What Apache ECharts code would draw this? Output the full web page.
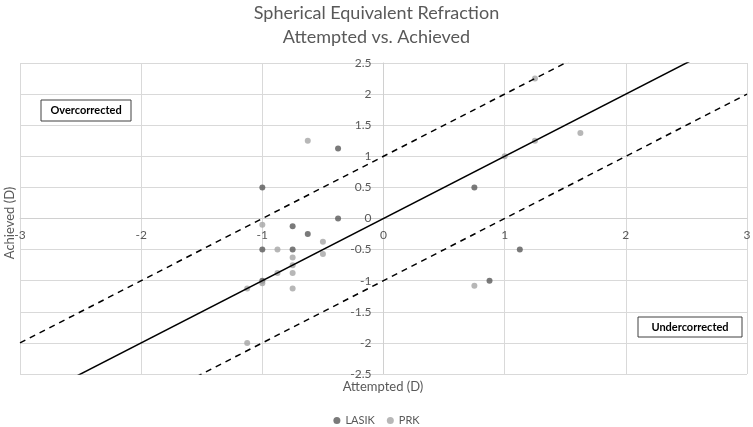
<!DOCTYPE html>
<html>
<head>
<meta charset="utf-8">
<script src="https://cdn.jsdelivr.net/npm/echarts@6/dist/echarts.min.js"></script>
<style>
html,body{margin:0;padding:0;background:#fff;}
#chart{width:753px;height:427px;}
</style>
</head>
<body>
<div id="chart"></div>
<script>
// ---- data ----
var titleLines = ['Spherical Equivalent Refraction', 'Attempted vs. Achieved'];
var xAxisName = 'Attempted (D)';
var yAxisName = 'Achieved (D)';
var seriesNames = ['LASIK', 'PRK'];
var lasikX = [-1, -0.375, -0.375, -0.75, -0.625, -1, -0.75, -1, 0.75, 1.125, 0.875];
var lasikY = [0.5, 1.125, 0, -0.125, -0.25, -0.5, -0.5, -1, 0.5, -0.5, -1];
var prkX = [-0.625, -1, -0.5, -0.5, -0.875, -0.75, -0.75, -0.75, -0.875, -0.75, -1, -1.125, -1.125, 1.25, 1.25, 1.625, 1, 0.75];
var prkY = [1.25, -0.1, -0.375, -0.57, -0.5, -0.625, -0.75, -0.875, -0.875, -1.125, -1.04, -1.125, -2, 2.25, 1.25, 1.375, 1, -1.08];
var refLineX = [-3, 3];
var refSolidY = [-3, 3];
var refUpperY = [-2, 4];
var refLowerY = [-4, 2];
var annotationTexts = ['Overcorrected', 'Undercorrected'];
var xMin = -3, xMax = 3, yMin = -2.5, yMax = 2.5;

function zip(xs, ys) { return xs.map(function (x, i) { return [x, ys[i]]; }); }

var FONT = 'Lato';
var G = { left: 20, top: 63, width: 727, height: 311 };
// offsets that put each axis on the other's zero
var xAxisOffset = -G.height * (0 - yMin) / (yMax - yMin);
var yAxisOffset = -G.width * (0 - xMin) / (xMax - xMin);

var chart = echarts.init(document.getElementById('chart'));
var option = {
  animation: false,
  textStyle: { fontFamily: FONT },
  title: {
    text: titleLines.join('\n'),
    left: 'center',
    top: 1,
    padding: 0,
    textStyle: { fontFamily: FONT, fontSize: 18, fontWeight: 'normal', color: '#595959', lineHeight: 24 }
  },
  legend: {
    data: seriesNames,
    top: 410,
    left: 'center',
    itemWidth: 7,
    itemHeight: 7,
    itemGap: 12,
    icon: 'circle',
    textStyle: { fontFamily: FONT, fontSize: 11, color: '#595959' }
  },
  grid: { left: G.left, top: G.top, width: G.width, height: G.height, containLabel: false, outerBoundsMode: 'none' },
  xAxis: {
    type: 'value', min: xMin, max: xMax, interval: 1, position: 'bottom', offset: xAxisOffset,
    axisLine: { onZero: false, lineStyle: { color: '#d0d0d0', width: 1 } },
    axisTick: { show: false },
    axisLabel: { color: '#595959', fontSize: 12, margin: 11, fontFamily: FONT },
    splitLine: { show: true, lineStyle: { color: '#d9d9d9', width: 1 } }
  },
  yAxis: {
    type: 'value', min: yMin, max: yMax, interval: 0.5, position: 'left', offset: yAxisOffset,
    axisLine: { show: true, onZero: false, lineStyle: { color: '#d0d0d0', width: 1 } },
    axisTick: { show: false },
    axisLabel: { color: '#595959', fontSize: 12, margin: 12, fontFamily: FONT },
    splitLine: { show: true, lineStyle: { color: '#d9d9d9', width: 1 } }
  },
  graphic: [
    { type: 'text', x: 10, y: 223, rotation: Math.PI / 2,
      style: { text: yAxisName, fill: '#595959', font: '13px ' + FONT, align: 'center', verticalAlign: 'middle' } },
    { type: 'text', style: { text: xAxisName, fill: '#595959', font: '13px ' + FONT, align: 'center', verticalAlign: 'middle', x: 383, y: 387 } },
    { type: 'group', children: [
      { type: 'rect', shape: { x: 41, y: 100, width: 90, height: 21 }, style: { fill: '#fff', stroke: '#404040', lineWidth: 1 } },
      { type: 'text', style: { text: annotationTexts[0], x: 86, y: 110.5, align: 'center', verticalAlign: 'middle', font: 'bold 11px ' + FONT, fill: '#000' } }
    ] },
    { type: 'group', children: [
      { type: 'rect', shape: { x: 638, y: 317, width: 104, height: 20 }, style: { fill: '#fff', stroke: '#404040', lineWidth: 1 } },
      { type: 'text', style: { text: annotationTexts[1], x: 690, y: 327, align: 'center', verticalAlign: 'middle', font: 'bold 11px ' + FONT, fill: '#000' } }
    ] }
  ],
  series: [
    { name: seriesNames[0], type: 'scatter', data: zip(lasikX, lasikY), symbolSize: 6, itemStyle: { color: '#595959' }, z: 3 },
    { name: seriesNames[1], type: 'scatter', data: zip(prkX, prkY), symbolSize: 6, itemStyle: { color: '#a5a5a5' }, z: 3 },
    { name: 'ref', type: 'line', data: zip(refLineX, refSolidY), symbol: 'none', silent: true, clip: true, z: 4,
      lineStyle: { color: '#000', width: 1.5 } },
    { name: 'upper', type: 'line', data: zip(refLineX, refUpperY), symbol: 'none', silent: true, clip: true, z: 4,
      lineStyle: { color: '#000', width: 1.5, type: [6, 5] } },
    { name: 'lower', type: 'line', data: zip(refLineX, refLowerY), symbol: 'none', silent: true, clip: true, z: 4,
      lineStyle: { color: '#000', width: 1.5, type: [6, 5] } }
  ]
};
chart.setOption(option);
</script>
</body>
</html>
